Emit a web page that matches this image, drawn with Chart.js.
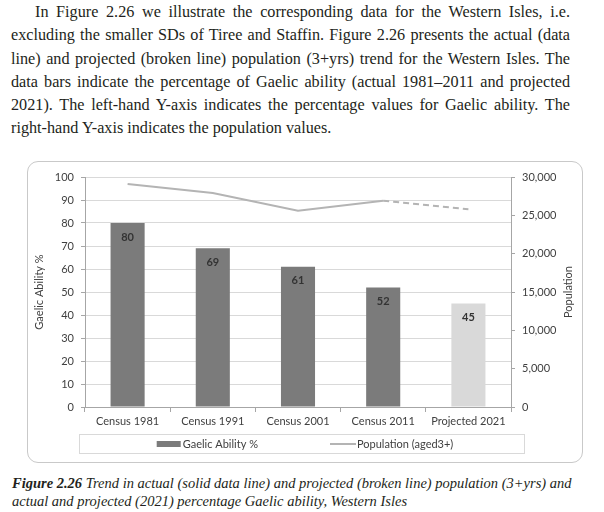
<!DOCTYPE html>
<html>
<head>
<meta charset="utf-8">
<script src="https://cdn.jsdelivr.net/npm/chart.js@4"></script>
<style>
  body { margin: 0; width: 604px; height: 512px; overflow: hidden; position: relative; background: #fff; color: #231f20; font-family: "Liberation Serif", serif; }
  #para { position: absolute; left: 11px; top: 1px; width: 559px; font-size: 16.2px; line-height: 23.3px; }
  #para div { text-align: justify; text-align-last: justify; }
  #para div.first { text-indent: 24px; }
  #para div.last { text-align: left; text-align-last: left; }
  #box { position: absolute; left: 27px; top: 161px; width: 556px; height: 302px; box-sizing: border-box; border: 1px solid #c9c9c9; border-radius: 11px; }
  #wrap { position: absolute; left: 27px; top: 161px; width: 556px; height: 302px; }
  #caption { position: absolute; left: 12px; top: 474px; font-size: 14.5px; line-height: 18px; font-style: italic; }
</style>
</head>
<body>
<div id="para">
  <div class="first">In Figure 2.26 we illustrate the corresponding data for the Western Isles, i.e.</div>
  <div>excluding the smaller SDs of Tiree and Staffin. Figure 2.26 presents the actual (data</div>
  <div>line) and projected (broken line) population (3+yrs) trend for the Western Isles. The</div>
  <div>data bars indicate the percentage of Gaelic ability (actual 1981–2011 and projected</div>
  <div>2021). The left-hand Y-axis indicates the percentage values for Gaelic ability. The</div>
  <div class="last">right-hand Y-axis indicates the population values.</div>
</div>
<div id="box"></div>
<div id="wrap"><canvas id="chart"></canvas></div>
<div id="caption"><b>Figure 2.26</b> Trend in actual (solid data line) and projected (broken line) population (3+yrs) and<br>actual and projected (2021) percentage Gaelic ability, Western Isles</div>

<script>
const categories = ['Census 1981', 'Census 1991', 'Census 2001', 'Census 2011', 'Projected 2021'];
const gaelicAbility = [80, 69, 61, 52, 45];
const population = [29100, 27900, 25600, 26900, 25800];
const projected = [false, false, false, false, true];
const pctMin = 0, pctMax = 100, pctStep = 10;
const popMin = 0, popMax = 30000, popStep = 5000;

const barColor = '#7b7b7b';
const projBarColor = '#d9d9d9';
const lineColor = '#b4b4b4';
const textColor = '#404040';
const chartFont = 'Lato';

// value labels just inside the top of each bar
const barLabels = {
  id: 'barLabels',
  afterDatasetsDraw(chart) {
    const ctx = chart.ctx;
    const meta = chart.getDatasetMeta(1);
    ctx.save();
    ctx.font = 'bold 11px ' + chartFont;
    ctx.fillStyle = '#333';
    ctx.textAlign = 'center';
    ctx.textBaseline = 'middle';
    meta.data.forEach((bar, i) => {
      ctx.fillText(gaelicAbility[i], bar.x, bar.y + 14);
    });
    ctx.restore();
  }
};

// right axis title (reads upwards) and the boxed legend under the axis
const extras = {
  id: 'extras',
  afterDraw(chart) {
    const ctx = chart.ctx;
    const ca = chart.chartArea;
    ctx.save();
    ctx.fillStyle = textColor;
    ctx.font = '11px ' + chartFont;
    ctx.translate(541, (ca.top + ca.bottom) / 2);
    ctx.rotate(-Math.PI / 2);
    ctx.textAlign = 'center';
    ctx.textBaseline = 'middle';
    ctx.fillText('Population', 0, 0);
    ctx.restore();

    ctx.save();
    const top = ca.bottom + 27;
    ctx.strokeStyle = '#d9d9d9';
    ctx.lineWidth = 1;
    ctx.strokeRect(ca.left - 6 + 0.5, top + 0.5, ca.right - ca.left + 19, 19);

    ctx.font = '11px ' + chartFont;
    ctx.textBaseline = 'middle';
    ctx.textAlign = 'left';
    ctx.fillStyle = textColor;
    const t1 = chart.data.datasets[1].label;
    const t2 = chart.data.datasets[0].label;
    const w1 = ctx.measureText(t1).width;
    const w2 = ctx.measureText(t2).width;
    const total = 24 + 2 + w1 + 72 + 26 + 1 + w2;
    let x = (chart.width - total) / 2;
    const cy = top + 10;
    ctx.fillStyle = barColor;
    ctx.fillRect(x, cy - 3, 24, 6);
    x += 26;
    ctx.fillStyle = textColor;
    ctx.fillText(t1, x, cy);
    x += w1 + 72;
    ctx.strokeStyle = lineColor;
    ctx.lineWidth = 2;
    ctx.beginPath();
    ctx.moveTo(x, cy);
    ctx.lineTo(x + 26, cy);
    ctx.stroke();
    x += 27;
    ctx.fillText(t2, x, cy);
    ctx.restore();
  }
};

new Chart(document.getElementById('chart'), {
  type: 'bar',
  data: {
    labels: categories,
    datasets: [
      {
        type: 'line',
        label: 'Population (aged3+)',
        data: population,
        yAxisID: 'y1',
        borderColor: lineColor,
        borderWidth: 2,
        pointRadius: 0,
        tension: 0,
        order: 0,
        segment: {
          borderDash: c => projected[c.p1DataIndex] ? [6, 4] : undefined
        }
      },
      {
        type: 'bar',
        label: 'Gaelic Ability %',
        data: gaelicAbility,
        yAxisID: 'y',
        backgroundColor: projected.map(p => p ? projBarColor : barColor),
        barPercentage: 0.4,
        categoryPercentage: 1,
        order: 1
      }
    ]
  },
  options: {
    responsive: true,
    maintainAspectRatio: false,
    animation: false,
    layout: { padding: { top: 16, left: 0, right: 0, bottom: 32 } },
    plugins: {
      legend: { display: false },
      tooltip: { enabled: false }
    },
    scales: {
      x: {
        afterFit(s) { s.height = 24; },
        grid: { drawOnChartArea: false, drawTicks: true, tickLength: 5, color: '#a6a6a6' },
        border: { color: '#a6a6a6' },
        ticks: { color: textColor, font: { family: chartFont, size: 11 }, padding: 3, maxRotation: 0 }
      },
      y: {
        position: 'left',
        min: pctMin, max: pctMax,
        afterFit(s) { s.width = 58; },
        ticks: { stepSize: pctStep, color: textColor, font: { family: chartFont, size: 11 }, padding: 7 },
        grid: { color: '#d9d9d9', tickLength: 4, tickColor: '#a6a6a6' },
        border: { color: '#a6a6a6' },
        title: { display: true, text: 'Gaelic Ability %', color: textColor, font: { family: chartFont, size: 11 }, padding: { top: 6, bottom: 0 } }
      },
      y1: {
        position: 'right',
        min: popMin, max: popMax,
        afterFit(s) { s.width = 72; },
        ticks: {
          stepSize: popStep, color: textColor, font: { family: chartFont, size: 11 }, padding: 7,
          callback: v => v.toLocaleString('en-US')
        },
        grid: { drawOnChartArea: false, tickLength: 4, color: '#a6a6a6' },
        border: { color: '#a6a6a6' }
      }
    }
  },
  plugins: [barLabels, extras]
});
</script>
</body>
</html>
